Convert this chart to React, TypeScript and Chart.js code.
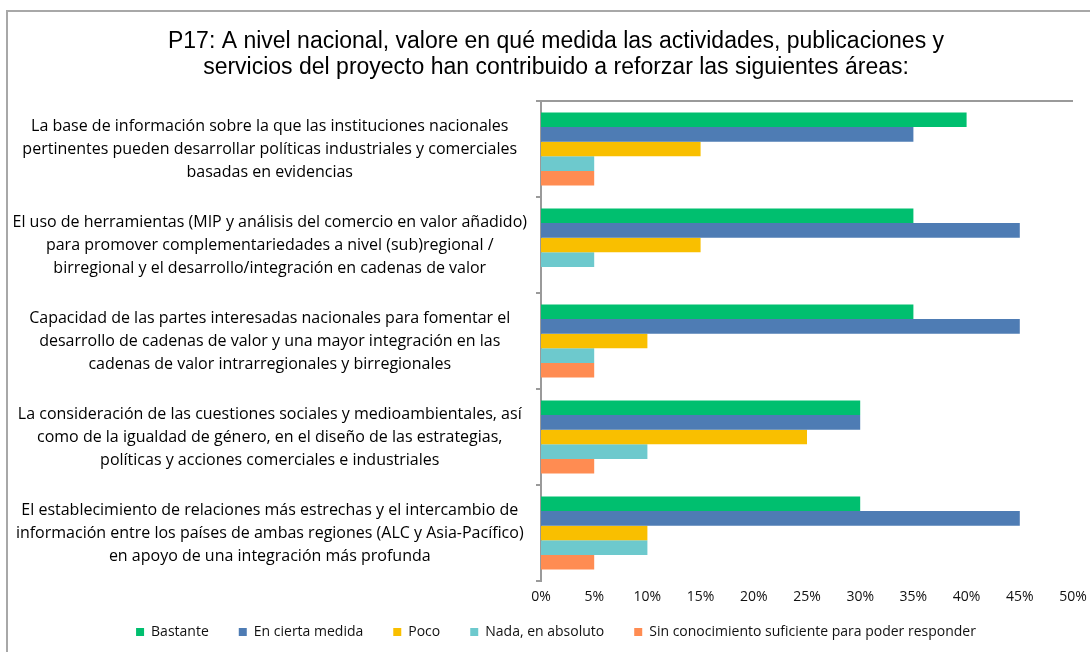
import React, { useEffect, useRef } from "react";
import { Chart, registerables } from "chart.js";

Chart.register(...registerables);

const categories: string[][] = [
  [
    "La base de información sobre la que las instituciones nacionales",
    "pertinentes pueden desarrollar políticas industriales y comerciales",
    "basadas en evidencias",
  ],
  [
    "El uso de herramientas (MIP y análisis del comercio en valor añadido)",
    "para promover complementariedades a nivel (sub)regional /",
    "birregional y el desarrollo/integración en cadenas de valor",
  ],
  [
    "Capacidad de las partes interesadas nacionales para fomentar el",
    "desarrollo de cadenas de valor y una mayor integración en las",
    "cadenas de valor intrarregionales y birregionales",
  ],
  [
    "La consideración de las cuestiones sociales y medioambientales, así",
    "como de la igualdad de género, en el diseño de las estrategias,",
    "políticas y acciones comerciales e industriales",
  ],
  [
    "El establecimiento de relaciones más estrechas y el intercambio de",
    "información entre los países de ambas regiones (ALC y Asia-Pacífico)",
    "en apoyo de una integración más profunda",
  ],
];

const seriesNames = [
  "Bastante",
  "En cierta medida",
  "Poco",
  "Nada, en absoluto",
  "Sin conocimiento suficiente para poder responder",
];

const bastante = [40, 35, 35, 30, 30];
const enCiertaMedida = [35, 45, 45, 30, 45];
const poco = [15, 15, 10, 25, 10];
const nada = [5, 5, 5, 10, 10];
const sinConocimiento = [5, 0, 5, 5, 5];

const seriesColors = ["#00BF6F", "#4E7CB4", "#F9BF00", "#6DC9CD", "#FF8C52"];

const titleLines = [
  "P17: A nivel nacional, valore en qué medida las actividades, publicaciones y",
  "servicios del proyecto han contribuido a reforzar las siguientes áreas:",
];

const xMin = 0;
const xMax = 50;
const xStep = 5;

const bodyFont = "'Open Sans', Lato, sans-serif";

const axisHelperPlugin = {
  id: "axisHelper",
  afterLayout(chart: any) {
    // enlarge the clip boxes of the tick labels so they are not cut
    const sx = chart.scales.x;
    sx.bottom = sx.top + 30;
    const sy = chart.scales.y;
    sy.left = 0;
  },
  afterDraw(chart: any) {
    const { ctx, chartArea } = chart;
    ctx.save();
    ctx.strokeStyle = "#9a9a9a";
    ctx.lineWidth = 2;
    ctx.beginPath();
    ctx.moveTo(chartArea.left - 2, chartArea.top);
    ctx.lineTo(chartArea.right, chartArea.top);
    ctx.stroke();
    ctx.restore();
  },
};

export default function App() {
  const canvasRef = useRef<HTMLCanvasElement | null>(null);

  useEffect(() => {
    if (!canvasRef.current) return;
    const values = [bastante, enCiertaMedida, poco, nada, sinConocimiento];
    const chart = new Chart(canvasRef.current, {
      type: "bar",
      data: {
        labels: categories,
        datasets: seriesNames.map((name, i) => ({
          label: name,
          data: values[i],
          backgroundColor: seriesColors[i],
          borderWidth: 0,
          categoryPercentage: 0.76,
          barPercentage: 1.0,
        })),
      },
      options: {
        indexAxis: "y",
        animation: false,
        responsive: false,
        maintainAspectRatio: false,
        layout: { padding: { left: 39, right: 17, top: 0, bottom: 3 } },
        plugins: {
          title: {
            display: true,
            text: titleLines,
            color: "#000",
            font: { family: "'Liberation Sans', Arial, sans-serif", size: 23, weight: "normal", lineHeight: 26 / 23 },
            padding: { top: 29, bottom: 20 },
          },
          legend: {
            display: true,
            position: "bottom",
            labels: {
              boxWidth: 8,
              boxHeight: 8,
              padding: 30,
              color: "#111",
              font: { family: bodyFont, size: 14 },
            },
          },
          tooltip: { enabled: false },
        },
        scales: {
          x: {
            type: "linear",
            min: xMin,
            max: xMax,
            ticks: {
              stepSize: xStep,
              padding: 8,
              color: "#111",
              font: { family: bodyFont, size: 14 },
              callback: (v: any) => `${v}%`,
            },
            grid: { display: false, drawTicks: false },
            border: { display: false },
            afterFit: (scale: any) => {
              scale.height = 14;
              scale.paddingLeft = 0;
              scale.paddingRight = 0;
            },
          },
          y: {
            type: "category",
            ticks: {
              crossAlign: "center",
              padding: 9,
              color: "#000",
              font: { family: bodyFont, size: 16, lineHeight: 23 / 16 },
              autoSkip: false,
            },
            grid: {
              display: true,
              drawOnChartArea: false,
              drawTicks: true,
              tickLength: 5,
              color: "#9a9a9a",
              lineWidth: 2,
              offset: true,
            },
            border: { display: true, color: "#9a9a9a", width: 2 },
            afterFit: (scale: any) => {
              scale.width = 502;
            },
          },
        },
      },
      plugins: [axisHelperPlugin],
    } as any);
    return () => chart.destroy();
  }, []);

  return (
    <div style={{ position: "fixed", left: 0, top: 0, width: 1090, height: 652, overflow: "hidden", background: "#fff" }}>
      <div
        style={{
          position: "absolute",
          left: 6,
          top: 10,
          width: 2000,
          height: 2000,
          borderTop: "2px solid #a8a8a8",
          borderLeft: "2px solid #a8a8a8",
        }}
      />
      <canvas ref={canvasRef} width={1090} height={652} style={{ position: "absolute", left: 0, top: 0, width: 1090, height: 652 }} />
    </div>
  );
}
